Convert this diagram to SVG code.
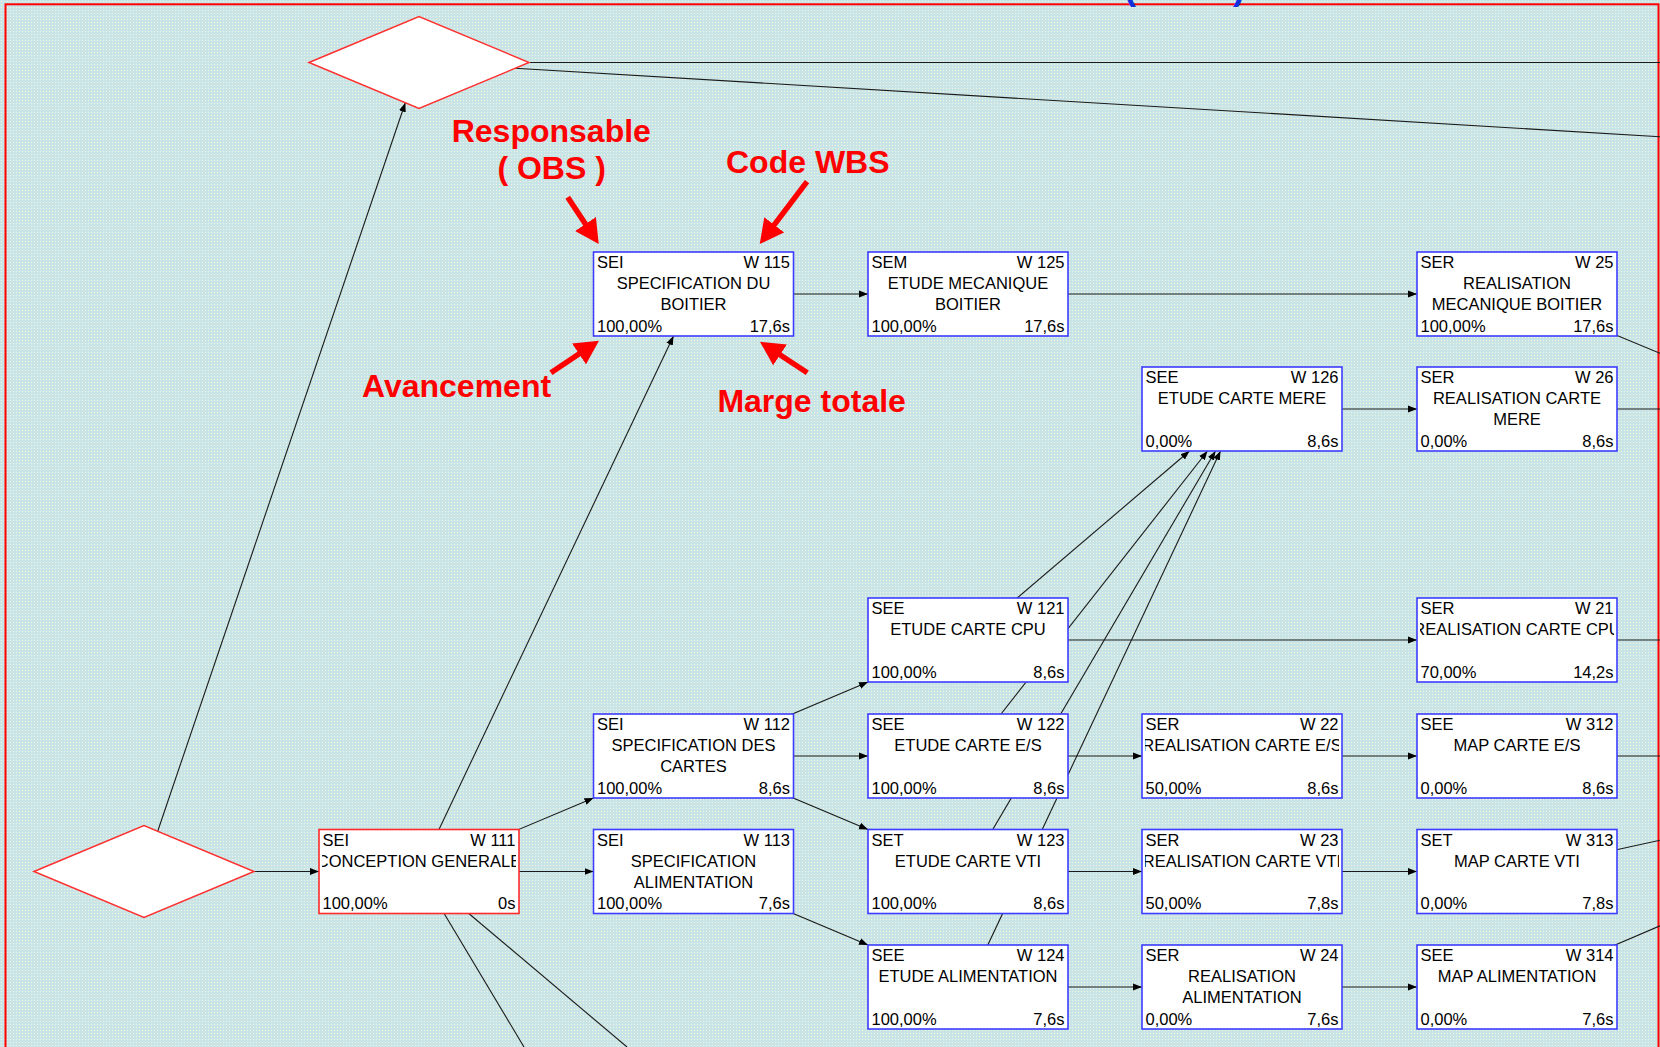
<svg xmlns="http://www.w3.org/2000/svg" width="1660" height="1047" viewBox="0 0 1660 1047">
<defs>
<pattern id="bg" width="3" height="3" patternUnits="userSpaceOnUse">
<rect width="3" height="3" fill="#c9e4e6"/>
<rect x="1" y="1" width="1" height="1" fill="#f3f6dc"/>
</pattern>
<marker id="ah" markerUnits="userSpaceOnUse" markerWidth="9" markerHeight="8" viewBox="0 0 9 8" refX="9" refY="4" orient="auto">
<path d="M0,0.5 L9,4 L0,7.5 Z" fill="#000"/>
</marker>
<marker id="rh" markerUnits="userSpaceOnUse" markerWidth="24" markerHeight="25" viewBox="0 0 24 25" refX="12" refY="12.5" orient="auto">
<path d="M0,0 L24,12.5 L0,25 Z" fill="#ff0000"/>
</marker>
</defs>
<style>
.cn{fill:none;stroke:#1a1a1a;stroke-width:1.1}
.ar{marker-end:url(#ah)}
.box{fill:#fff;stroke:#3c3cff;stroke-width:1.6}
.crit{stroke:#ff2a2a}
.dia{fill:#fff;stroke:#ff3030;stroke-width:1.5}
.t{font-family:"Liberation Sans",Arial,sans-serif;font-size:16.5px;fill:#000}
.e{text-anchor:end}
.m{text-anchor:middle}
.ann{font-family:"Liberation Sans",Arial,sans-serif;font-size:32px;font-weight:bold;fill:#ff0000}
.ra{stroke:#ff0000;stroke-width:5.5;fill:none;marker-end:url(#rh)}
</style>
<rect width="1660" height="1047" fill="url(#bg)"/>
<rect x="5.5" y="4.3" width="1653" height="1100" fill="none" stroke="#ff0000" stroke-width="2"/>
<text x="1124" y="-1" font-family="Liberation Sans,Arial,sans-serif" font-size="36" font-weight="bold" fill="#1030e0">(</text>
<text x="1233" y="-1" font-family="Liberation Sans,Arial,sans-serif" font-size="36" font-weight="bold" fill="#1030e0">)</text>

<g id="connectors">
<path class="cn" d="M529,62.5 H1660"/>
<path class="cn" d="M515.2,68.3 L1660,136.7"/>
<path class="cn ar" d="M157.7,831.2 L405.3,102.8"/>
<path class="cn ar" d="M254,871.5 H319"/>
<path class="cn ar" d="M793.5,294 H868"/>
<path class="cn ar" d="M1068,294 H1417"/>
<path class="cn" d="M1517,294 L1660,353.3"/>
<path class="cn ar" d="M1342,409 H1417"/>
<path class="cn" d="M1617,409 H1660"/>
<path class="cn ar" d="M1068,640 H1417"/>
<path class="cn" d="M1617,640 H1660"/>
<path class="cn ar" d="M419,871.5 L673.5,336"/>
<path class="cn ar" d="M419,871.5 L593.5,798"/>
<path class="cn ar" d="M519,871.5 H593.5"/>
<path class="cn" d="M419,871.5 L524,1047"/>
<path class="cn" d="M419,871.5 L627,1047"/>
<path class="cn ar" d="M693.5,756 L868,682"/>
<path class="cn ar" d="M793.5,756 H868"/>
<path class="cn ar" d="M693.5,756 L868,829.5"/>
<path class="cn ar" d="M693.5,871.5 L868,945"/>
<path class="cn ar" d="M1068,756 H1142"/>
<path class="cn ar" d="M1342,756 H1417"/>
<path class="cn" d="M1617,756 H1660"/>
<path class="cn ar" d="M1068,871.5 H1142"/>
<path class="cn ar" d="M1342,871.5 H1417"/>
<path class="cn" d="M1517,871.5 L1660,840.3"/>
<path class="cn ar" d="M1068,987 H1142"/>
<path class="cn ar" d="M1342,987 H1417"/>
<path class="cn" d="M1517,987 L1660,925.8"/>
<path class="cn ar" d="M968,640 L1189.5,451"/>
<path class="cn ar" d="M968,756 L1207.5,451"/>
<path class="cn ar" d="M968,871.5 L1215.5,451"/>
<path class="cn ar" d="M968,987 L1220.5,451"/>
</g>

<g id="d-start"><polygon class="dia" points="34,871.5 144,825.5 254,871.5 144,917.5"/></g>
<g id="d-top"><polygon class="dia" points="309,62.5 419,16.5 529,62.5 419,108.5"/></g>

<g id="w115"><rect class="box" x="593.5" y="252" width="200" height="84"/>
<svg x="596.5" y="252" width="194" height="84"><text class="t" x="0.5" y="16">SEI</text><text class="t e" x="193.5" y="16">W 115</text><text class="t m" x="97" y="37">SPECIFICATION DU</text><text class="t m" x="97" y="58">BOITIER</text><text class="t" x="0.5" y="79.5">100,00%</text><text class="t e" x="193.5" y="79.5">17,6s</text></svg></g>

<g id="w125"><rect class="box" x="868" y="252" width="200" height="84"/>
<svg x="871" y="252" width="194" height="84"><text class="t" x="0.5" y="16">SEM</text><text class="t e" x="193.5" y="16">W 125</text><text class="t m" x="97" y="37">ETUDE MECANIQUE</text><text class="t m" x="97" y="58">BOITIER</text><text class="t" x="0.5" y="79.5">100,00%</text><text class="t e" x="193.5" y="79.5">17,6s</text></svg></g>

<g id="w25"><rect class="box" x="1417" y="252" width="200" height="84"/>
<svg x="1420" y="252" width="194" height="84"><text class="t" x="0.5" y="16">SER</text><text class="t e" x="193.5" y="16">W 25</text><text class="t m" x="97" y="37">REALISATION</text><text class="t m" x="97" y="58">MECANIQUE BOITIER</text><text class="t" x="0.5" y="79.5">100,00%</text><text class="t e" x="193.5" y="79.5">17,6s</text></svg></g>

<g id="w126"><rect class="box" x="1142" y="367" width="200" height="84"/>
<svg x="1145" y="367" width="194" height="84"><text class="t" x="0.5" y="16">SEE</text><text class="t e" x="193.5" y="16">W 126</text><text class="t m" x="97" y="37">ETUDE CARTE MERE</text><text class="t" x="0.5" y="79.5">0,00%</text><text class="t e" x="193.5" y="79.5">8,6s</text></svg></g>

<g id="w26"><rect class="box" x="1417" y="367" width="200" height="84"/>
<svg x="1420" y="367" width="194" height="84"><text class="t" x="0.5" y="16">SER</text><text class="t e" x="193.5" y="16">W 26</text><text class="t m" x="97" y="37">REALISATION CARTE</text><text class="t m" x="97" y="58">MERE</text><text class="t" x="0.5" y="79.5">0,00%</text><text class="t e" x="193.5" y="79.5">8,6s</text></svg></g>

<g id="w121"><rect class="box" x="868" y="598" width="200" height="84"/>
<svg x="871" y="598" width="194" height="84"><text class="t" x="0.5" y="16">SEE</text><text class="t e" x="193.5" y="16">W 121</text><text class="t m" x="97" y="37">ETUDE CARTE CPU</text><text class="t" x="0.5" y="79.5">100,00%</text><text class="t e" x="193.5" y="79.5">8,6s</text></svg></g>

<g id="w21"><rect class="box" x="1417" y="598" width="200" height="84"/>
<svg x="1420" y="598" width="194" height="84"><text class="t" x="0.5" y="16">SER</text><text class="t e" x="193.5" y="16">W 21</text><text class="t m" x="97" y="37">REALISATION CARTE CPU</text><text class="t" x="0.5" y="79.5">70,00%</text><text class="t e" x="193.5" y="79.5">14,2s</text></svg></g>

<g id="w112"><rect class="box" x="593.5" y="714" width="200" height="84"/>
<svg x="596.5" y="714" width="194" height="84"><text class="t" x="0.5" y="16">SEI</text><text class="t e" x="193.5" y="16">W 112</text><text class="t m" x="97" y="37">SPECIFICATION DES</text><text class="t m" x="97" y="58">CARTES</text><text class="t" x="0.5" y="79.5">100,00%</text><text class="t e" x="193.5" y="79.5">8,6s</text></svg></g>

<g id="w122"><rect class="box" x="868" y="714" width="200" height="84"/>
<svg x="871" y="714" width="194" height="84"><text class="t" x="0.5" y="16">SEE</text><text class="t e" x="193.5" y="16">W 122</text><text class="t m" x="97" y="37">ETUDE CARTE E/S</text><text class="t" x="0.5" y="79.5">100,00%</text><text class="t e" x="193.5" y="79.5">8,6s</text></svg></g>

<g id="w22"><rect class="box" x="1142" y="714" width="200" height="84"/>
<svg x="1145" y="714" width="194" height="84"><text class="t" x="0.5" y="16">SER</text><text class="t e" x="193.5" y="16">W 22</text><text class="t m" x="97" y="37">REALISATION CARTE E/S</text><text class="t" x="0.5" y="79.5">50,00%</text><text class="t e" x="193.5" y="79.5">8,6s</text></svg></g>

<g id="w312"><rect class="box" x="1417" y="714" width="200" height="84"/>
<svg x="1420" y="714" width="194" height="84"><text class="t" x="0.5" y="16">SEE</text><text class="t e" x="193.5" y="16">W 312</text><text class="t m" x="97" y="37">MAP CARTE E/S</text><text class="t" x="0.5" y="79.5">0,00%</text><text class="t e" x="193.5" y="79.5">8,6s</text></svg></g>

<g id="w111"><rect class="box crit" x="319" y="829.5" width="200" height="84"/>
<svg x="322" y="829.5" width="194" height="84"><text class="t" x="0.5" y="16">SEI</text><text class="t e" x="193.5" y="16">W 111</text><text class="t m" x="97" y="37">CONCEPTION GENERALE</text><text class="t" x="0.5" y="79.5">100,00%</text><text class="t e" x="193.5" y="79.5">0s</text></svg></g>

<g id="w113"><rect class="box" x="593.5" y="829.5" width="200" height="84"/>
<svg x="596.5" y="829.5" width="194" height="84"><text class="t" x="0.5" y="16">SEI</text><text class="t e" x="193.5" y="16">W 113</text><text class="t m" x="97" y="37">SPECIFICATION</text><text class="t m" x="97" y="58">ALIMENTATION</text><text class="t" x="0.5" y="79.5">100,00%</text><text class="t e" x="193.5" y="79.5">7,6s</text></svg></g>

<g id="w123"><rect class="box" x="868" y="829.5" width="200" height="84"/>
<svg x="871" y="829.5" width="194" height="84"><text class="t" x="0.5" y="16">SET</text><text class="t e" x="193.5" y="16">W 123</text><text class="t m" x="97" y="37">ETUDE CARTE VTI</text><text class="t" x="0.5" y="79.5">100,00%</text><text class="t e" x="193.5" y="79.5">8,6s</text></svg></g>

<g id="w23"><rect class="box" x="1142" y="829.5" width="200" height="84"/>
<svg x="1145" y="829.5" width="194" height="84"><text class="t" x="0.5" y="16">SER</text><text class="t e" x="193.5" y="16">W 23</text><text class="t m" x="97" y="37">REALISATION CARTE VTI</text><text class="t" x="0.5" y="79.5">50,00%</text><text class="t e" x="193.5" y="79.5">7,8s</text></svg></g>

<g id="w313"><rect class="box" x="1417" y="829.5" width="200" height="84"/>
<svg x="1420" y="829.5" width="194" height="84"><text class="t" x="0.5" y="16">SET</text><text class="t e" x="193.5" y="16">W 313</text><text class="t m" x="97" y="37">MAP CARTE VTI</text><text class="t" x="0.5" y="79.5">0,00%</text><text class="t e" x="193.5" y="79.5">7,8s</text></svg></g>

<g id="w124"><rect class="box" x="868" y="945" width="200" height="84"/>
<svg x="871" y="945" width="194" height="84"><text class="t" x="0.5" y="16">SEE</text><text class="t e" x="193.5" y="16">W 124</text><text class="t m" x="97" y="37">ETUDE ALIMENTATION</text><text class="t" x="0.5" y="79.5">100,00%</text><text class="t e" x="193.5" y="79.5">7,6s</text></svg></g>

<g id="w24"><rect class="box" x="1142" y="945" width="200" height="84"/>
<svg x="1145" y="945" width="194" height="84"><text class="t" x="0.5" y="16">SER</text><text class="t e" x="193.5" y="16">W 24</text><text class="t m" x="97" y="37">REALISATION</text><text class="t m" x="97" y="58">ALIMENTATION</text><text class="t" x="0.5" y="79.5">0,00%</text><text class="t e" x="193.5" y="79.5">7,6s</text></svg></g>

<g id="w314"><rect class="box" x="1417" y="945" width="200" height="84"/>
<svg x="1420" y="945" width="194" height="84"><text class="t" x="0.5" y="16">SEE</text><text class="t e" x="193.5" y="16">W 314</text><text class="t m" x="97" y="37">MAP ALIMENTATION</text><text class="t" x="0.5" y="79.5">0,00%</text><text class="t e" x="193.5" y="79.5">7,6s</text></svg></g>

<g id="annotations">
<text class="ann" x="551.3" y="142" text-anchor="middle">Responsable</text>
<text class="ann" x="551.6" y="179" text-anchor="middle">( OBS )</text>
<text class="ann" x="726" y="172.7">Code WBS</text>
<text class="ann" x="362" y="397">Avancement</text>
<text class="ann" x="717.4" y="411.5">Marge totale</text>
<path class="ra" d="M567.7,197.3 L592.1,234"/>
<path class="ra" d="M807,181.7 L767,234.4"/>
<path class="ra" d="M550.9,372.7 L589,347.3"/>
<path class="ra" d="M807.3,372.7 L770,348.3"/>
</g>
</svg>
